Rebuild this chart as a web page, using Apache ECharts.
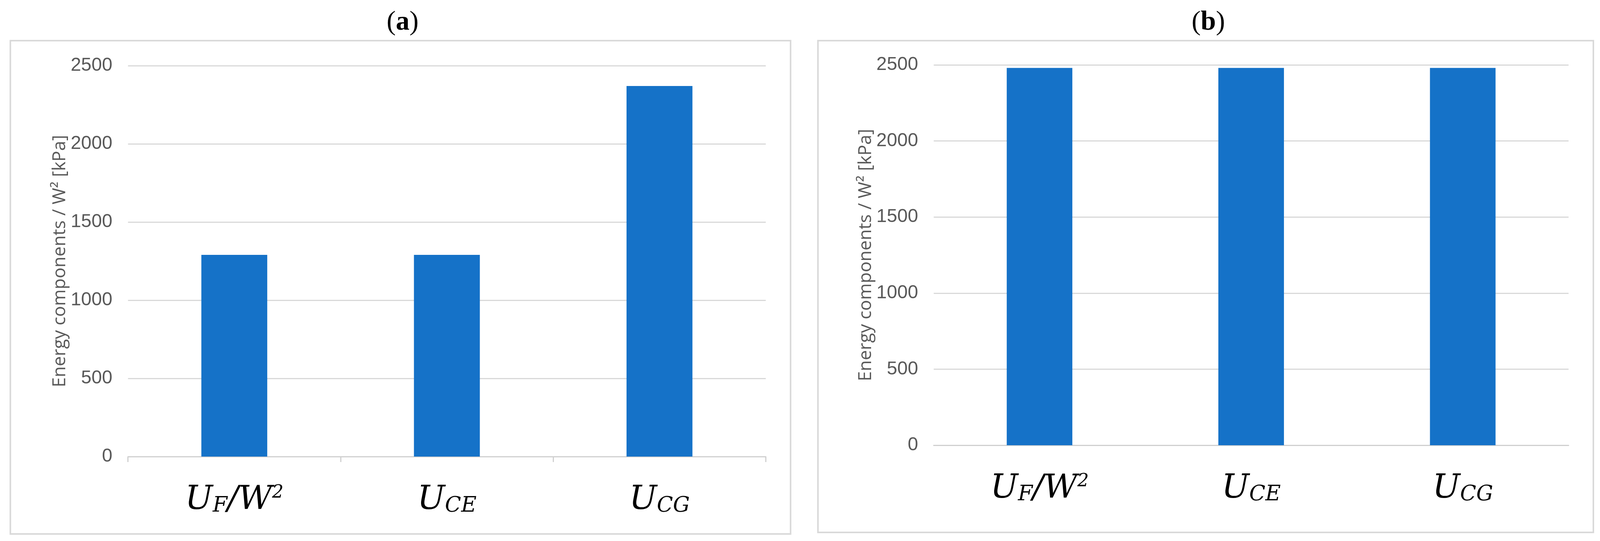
<!DOCTYPE html>
<html><head><meta charset="utf-8">
<script src="https://cdn.jsdelivr.net/npm/echarts@6/dist/echarts.min.js"></script>
<style>html,body{margin:0;padding:0;background:#fff;overflow:hidden}#c{width:100vw;height:100vh}</style>
</head><body><div id="c"></div>
<script>
const categories = ['UF/W2', 'UCE', 'UCG'];
const valuesA = [1290, 1290, 2370];
const valuesB = [2480, 2480, 2480];
const yTicks = [0, 500, 1000, 1500, 2000, 2500];

const chart = echarts.init(document.getElementById('c'));
const s = chart.getWidth() / 4325;
const X = v => v * s;

const rich = {
  u: {fontFamily: 'DejaVu Serif, Liberation Serif, serif', fontStyle: 'italic', fontSize: 84, color: '#000'},
  s: {fontFamily: 'DejaVu Serif, Liberation Serif, serif', fontStyle: 'italic', fontSize: 54, color: '#000', verticalAlign: 'bottom'},
  p: {fontFamily: 'DejaVu Serif, Liberation Serif, serif', fontStyle: 'italic', fontSize: 46, color: '#000', verticalAlign: 'top', padding: [0,0,30,0]}
};
function catFmt(v) {
  if (v === 'UF/W2') return '{u|U}{s|F}{u|/W}{p|2}';
  if (v === 'UCE') return '{u|U}{s|CE}';
  return '{u|U}{s|CG}';
}
function xAx(i, ticks) {
  return {gridIndex: i, type: 'category', data: categories,
    axisLine: {lineStyle: {color: '#d0d0d0', width: 3}},
    axisTick: {show: ticks, length: 14, lineStyle: {color: '#d0d0d0', width: 3}},
    axisLabel: {formatter: catFmt, rich: rich, margin: 70}};
}
function yAx(i) {
  return {gridIndex: i, type: 'value', min: yTicks[0], max: yTicks[yTicks.length-1], interval: yTicks[1]-yTicks[0],
    name: 'Energy components / W² [kPa]', nameLocation: 'middle', nameGap: 145,
    nameTextStyle: {fontFamily: 'Open Sans', fontSize: 46, color: '#595959'},
    axisLine: {show: false}, axisTick: {show: false},
    axisLabel: {formatter: v => String(v), fontFamily: 'Liberation Sans Narrow, Liberation Sans', fontSize: 48, color: '#595959', margin: 40},
    splitLine: {lineStyle: {color: '#d9d9d9', width: 3}}};
}
const titleStyle = {fontFamily: 'Liberation Serif', fontSize: 70, fontWeight: 'normal', color: '#000',
  rich: {a: {fontFamily: 'Liberation Serif', fontSize: 70, fontWeight: 'bold'}}};
chart.setOption({
  animation: false,
  title: [
    {text: '({a|a})', left: X(1083), top: 18, textAlign: 'center', textStyle: titleStyle},
    {text: '({a|b})', left: X(3261), top: 18, textAlign: 'center', textStyle: titleStyle}
  ],
  graphic: [
    {type: 'rect', shape: {x: X(28), y: 104, width: X(2109), height: 1262}, style: {fill: 'none', stroke: '#d9d9d9', lineWidth: 4}},
    {type: 'rect', shape: {x: X(2211), y: 104, width: X(2096), height: 1258}, style: {fill: 'none', stroke: '#d9d9d9', lineWidth: 4}}
  ],
  grid: [
    {left: X(346), width: X(1724), top: 168, height: 1000},
    {left: X(2524), width: X(1716), top: 166, height: 973}
  ],
  xAxis: [xAx(0, true), xAx(1, false)],
  yAxis: [yAx(0), yAx(1)],
  series: [
    {type: 'bar', xAxisIndex: 0, yAxisIndex: 0, data: valuesA, barWidth: '31%', itemStyle: {color: '#1572c8'}},
    {type: 'bar', xAxisIndex: 1, yAxisIndex: 1, data: valuesB, barWidth: '31%', itemStyle: {color: '#1572c8'}}
  ]
});
</script></body></html>
